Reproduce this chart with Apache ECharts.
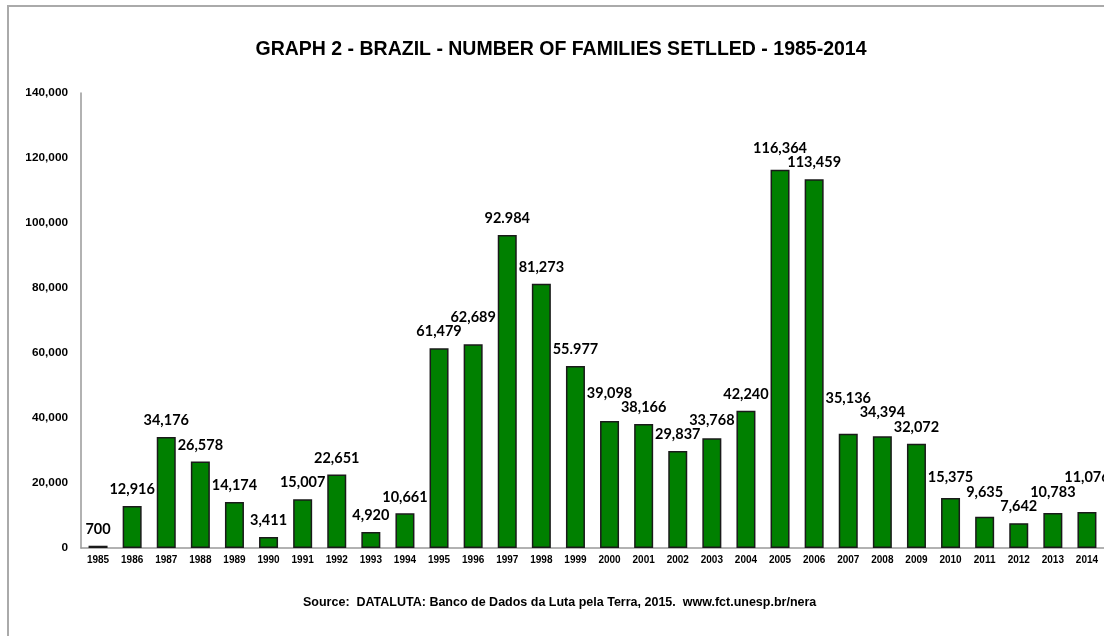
<!DOCTYPE html>
<html>
<head>
<meta charset="utf-8">
<script src="https://cdn.jsdelivr.net/npm/echarts@6/dist/echarts.min.js"></script>
<style>html,body{margin:0;padding:0;background:#fff;}#c{width:1104px;height:636px;}</style>
</head>
<body>
<div id="c"></div>
<script>
const years = ['1985','1986','1987','1988','1989','1990','1991','1992','1993','1994','1995','1996','1997','1998','1999','2000','2001','2002','2003','2004','2005','2006','2007','2008','2009','2010','2011','2012','2013','2014'];
const families = [700,12916,34176,26578,14174,3411,15007,22651,4920,10661,61479,62689,96300,81273,55977,39098,38166,29837,33768,42240,116364,113459,35136,34394,32072,15375,9635,7642,10783,11076];
const valueLabels = ['700','12,916','34,176','26,578','14,174','3,411','15,007','22,651','4,920','10,661','61,479','62,689','92.984','81,273','55.977','39,098','38,166','29,837','33,768','42,240','116,364','113,459','35,136','34,394','32,072','15,375','9,635','7,642','10,783','11,076'];
const yTicks = [0,20000,40000,60000,80000,100000,120000,140000];
const titleText = 'GRAPH 2 - BRAZIL - NUMBER OF FAMILIES SETLLED - 1985-2014';
const sourceText = 'Source:  DATALUTA: Banco de Dados da Luta pela Terra, 2015.  www.fct.unesp.br/nera';

const LABEL_FONT = 'bold 14.5px Lato';
const measureCtx = document.createElement('canvas').getContext('2d');
measureCtx.font = LABEL_FONT;

// Resolve collisions between neighbouring value labels: the label of the taller bar moves up.
let shifts = null;
function computeShifts() {
  const GAP = 4, GLYPH_H = 10.5, DIST = 12;
  const r = families.map((v, i) => {
    const pt = chart.convertToPixel({seriesIndex:0}, [i, v]);
    const w = measureCtx.measureText(valueLabels[i]).width;
    return {x0: pt[0] - w/2, x1: pt[0] + w/2, bottom: pt[1] - DIST, top: pt[1] - DIST - GLYPH_H, dy: 0};
  });
  const hit = (a, b) => a.x0 < b.x1 - 1 && b.x0 < a.x1 - 1 && a.top < b.bottom + GAP && b.top < a.bottom + GAP;
  const lift = (m, other) => { const d = m.bottom - (other.top - GAP); m.top -= d; m.bottom -= d; m.dy -= d; };
  for (let i = 1; i < r.length; i++) {
    if (!hit(r[i-1], r[i])) continue;
    if (families[i] >= families[i-1]) {
      lift(r[i], r[i-1]);
    } else {
      lift(r[i-1], r[i]);
      for (let j = i-1; j > 0 && hit(r[j-1], r[j]); j--) lift(r[j-1], r[j]);
    }
  }
  return r.map(o => o.dy);
}
function labelLayoutFn(p) {
  if (p.dataIndex === 0 || !shifts) {
    try { shifts = computeShifts(); } catch (e) { shifts = families.map(() => 0); }
  }
  return {dy: shifts[p.dataIndex] || 0};
}

const chart = echarts.init(document.getElementById('c'), null, {renderer:'canvas'});
chart.setOption({
  animation:false,
  backgroundColor:'#fff',
  title:{
    text:titleText, left:556, textAlign:'center', top:35,
    textStyle:{fontFamily:'Liberation Sans', fontWeight:'bold', fontSize:19.5, color:'#000'}
  },
  graphic:[
    {type:'rect', shape:{x:8, y:6, width:1200, height:700}, style:{fill:'none', stroke:'#aaaaaa', lineWidth:2}, silent:true},
    {type:'text', left:303, top:596, style:{text:sourceText, fontFamily:'Liberation Sans', fontWeight:'bold', fontSize:12.5, fill:'#000'}}
  ],
  grid:{left:81, right:0, top:93, bottom:88},
  xAxis:{
    type:'category', data:years,
    axisLine:{lineStyle:{color:'#999', width:1.5}},
    axisTick:{show:false},
    axisLabel:{fontFamily:'Liberation Sans', fontWeight:'bold', fontSize:10, color:'#000', margin:7, interval:0}
  },
  yAxis:{
    type:'value', min:yTicks[0], max:yTicks[yTicks.length-1], interval:yTicks[1]-yTicks[0],
    axisLine:{show:true, lineStyle:{color:'#999', width:1.5}},
    axisTick:{show:false},
    splitLine:{show:false},
    axisLabel:{fontFamily:'Liberation Sans', fontWeight:'bold', fontSize:11.8, color:'#000', margin:13,
      formatter:v=>v.toLocaleString('en-US')}
  },
  series:[{
    type:'bar', data:families, barWidth:19,
    itemStyle:{color:'#008000', borderColor:'#1a1a1a', borderWidth:1.5},
    label:{show:true, position:'top', distance:9,
      formatter:p=>valueLabels[p.dataIndex],
      fontFamily:'Lato', fontWeight:'bold', fontSize:14.5, color:'#000'},
    labelLayout:labelLayoutFn
  }]
});
</script>
</body>
</html>
